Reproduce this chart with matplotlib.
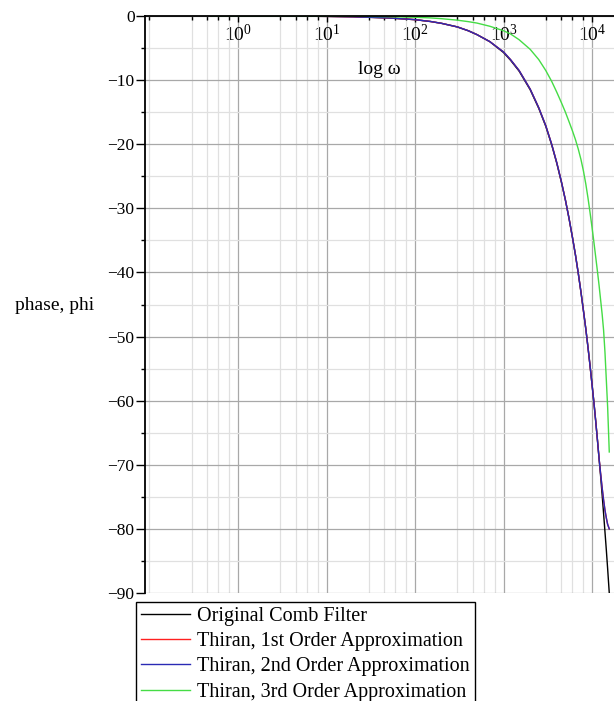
import numpy as np
import matplotlib
matplotlib.use('Agg')
import matplotlib.pyplot as plt
from matplotlib.ticker import FixedLocator, LogFormatterMathtext, NullFormatter

plt.rcParams['font.family'] = ['Liberation Serif', 'DejaVu Serif']
plt.rcParams['mathtext.fontset'] = 'stix'

# frequency samples (rad/s) and phase
omega = [0.5, 1, 2, 5, 10, 20, 50, 100, 150, 200, 300, 400, 500, 700, 1000, 1200, 1500,
         2000, 2500, 3000, 3500, 4000, 4500, 5000, 5500, 6000, 6500, 7000, 7500, 8000,
         8500, 9000, 9500, 10000, 10500, 11000, 11500, 12000, 12500, 13000, 13500, 14000,
         14500, 15000, 15650]
phi_orig = [0, -0.01, -0.01, -0.03, -0.06, -0.12, -0.3, -0.57, -0.86, -1.15, -1.7, -2.3, -2.9,
            -4.0, -5.7, -6.9, -8.6, -11.5, -14.4, -17.2, -20.1, -23.0, -25.9, -28.7, -31.6,
            -34.5, -37.3, -40.2, -43.1, -46.0, -48.8, -51.7, -54.6, -57.5, -60.3, -63.2,
            -66.1, -69.0, -71.8, -74.7, -77.6, -80.5, -83.3, -86.2, -90.0]
phi_thiran1 = [0, -0.01, -0.01, -0.03, -0.06, -0.12, -0.3, -0.57, -0.86, -1.15, -1.7, -2.3, -2.9,
               -4.0, -5.6, -6.8, -8.5, -11.4, -14.3, -17.1, -20.0, -22.9, -25.8, -28.7, -31.6,
               -34.5, -37.3, -40.2, -43.1, -46.0, -48.8, -51.7, -54.6, -57.5, -60.3, -63.2,
               -66.1, -69.0, -71.4, -73.6, -75.5, -77.1, -78.3, -79.3, -80.0]
phi_thiran2 = [0, -0.01, -0.01, -0.03, -0.06, -0.12, -0.3, -0.57, -0.86, -1.15, -1.7, -2.3, -2.9,
               -4.0, -5.6, -6.8, -8.5, -11.4, -14.3, -17.1, -20.0, -22.9, -25.8, -28.7, -31.6,
               -34.5, -37.3, -40.2, -43.1, -46.0, -48.8, -51.7, -54.6, -57.5, -60.3, -63.2,
               -66.1, -69.0, -71.4, -73.6, -75.5, -77.1, -78.3, -79.3, -80.0]
phi_thiran3 = [0, 0, 0, -0.01, -0.02, -0.04, -0.1, -0.2, -0.3, -0.42, -0.65, -0.88, -1.1,
               -1.6, -2.3, -2.8, -3.7, -5.2, -6.8, -8.5, -10.2, -11.9, -13.5, -15.0, -16.5,
               -17.9, -19.3, -20.8, -22.4, -24.2, -26.2, -28.4, -30.7, -33.0, -35.3, -37.6,
               -39.8, -42.0, -44.3, -46.5, -49.0, -52.5, -56.8, -61.0, -68.0]

labels = ['Original Comb Filter', 'Thiran, 1st Order Approximation',
          'Thiran, 2nd Order Approximation', 'Thiran, 3rd Order Approximation']
colors = ['black', '#ff2020', '#2a2ab4', '#45dc45']

W, H = 614, 701
fig = plt.figure(figsize=(W / 100, H / 100), dpi=100)
ax = fig.add_axes([145 / W, 1 - 593 / H, (W - 145) / W, (593 - 16) / H])

for y, lab, c in zip([phi_orig, phi_thiran1, phi_thiran2, phi_thiran3], labels, colors):
    ax.plot(omega, y, color=c, lw=1.0, label=lab)

ax.set_xscale('log')
ax.set_xlim(0.089, 17700)
ax.set_ylim(-90, 0)

# x axis sits at phi = 0 (top), labels inside
decades = [1, 10, 100, 1000, 10000]
minors = [0.1] + [d * s for d in [0.1, 1, 10, 100, 1000] for s in (3, 4.5, 6, 8)]
ax.xaxis.set_major_locator(FixedLocator(decades))
ax.xaxis.set_minor_locator(FixedLocator(minors))
ax.xaxis.set_major_formatter(LogFormatterMathtext())
ax.xaxis.set_minor_formatter(NullFormatter())
ax.tick_params(axis='x', which='both', top=True, bottom=False, labeltop=True,
               labelbottom=False, direction='in', labelsize=14, pad=-21)
ax.tick_params(axis='x', which='major', length=4.5, width=1)
ax.tick_params(axis='x', which='minor', length=3, width=1)

ax.set_yticks(np.arange(-90, 1, 10))
ax.set_yticks(np.arange(-85, 0, 10), minor=True)
ax.tick_params(axis='y', which='both', direction='out', labelsize=12.5, pad=1)
ax.tick_params(axis='y', which='major', length=6.5, width=1)
ax.tick_params(axis='y', which='minor', length=3, width=1)

ax.grid(True, which='major', color='#a8a8a8', lw=0.9)
ax.grid(True, which='minor', color='#e0e0e0', lw=0.9)
ax.set_axisbelow(True)

ax.spines['right'].set_visible(False)
ax.spines['bottom'].set_visible(False)
ax.spines['left'].set_linewidth(1.3)
ax.spines['top'].set_linewidth(1.3)

fig.text(379 / W, 1 - 70 / H, 'log ω', ha='center', va='center', fontsize=14)
fig.text(15 / W, 1 - 305 / H, 'phase, phi', ha='left', va='center', fontsize=14)

leg = fig.legend(loc='upper left', bbox_to_anchor=(136 / W, 1 - 602 / H),
                 bbox_transform=fig.transFigure, borderaxespad=0, fontsize=14.5,
                 handlelength=2.45, handletextpad=0.35, borderpad=0.25,
                 labelspacing=0.3, fancybox=False, framealpha=1, edgecolor='black')
leg.get_frame().set_linewidth(1.0)

fig.savefig('out.png', dpi=100)
